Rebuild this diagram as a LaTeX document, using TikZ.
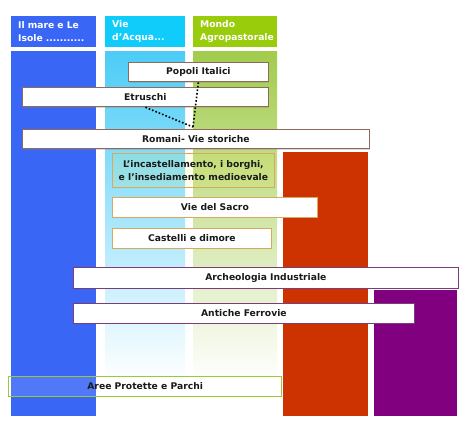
\documentclass[tikz,border=0pt]{standalone}
\usepackage{fontspec}
\setsansfont{DejaVu Sans}
\usetikzlibrary{positioning,shadows}
\definecolor{mareBlue}{HTML}{3A66F6}
\definecolor{acquaHead}{HTML}{10CCFA}
\definecolor{acquaBody}{HTML}{4CCCF6}
\definecolor{agroHead}{HTML}{99CC0A}
\definecolor{agroBody}{HTML}{A2CC4C}
\definecolor{storiaRed}{HTML}{CC3300}
\definecolor{ferroPurple}{HTML}{800080}
\definecolor{romaLine}{HTML}{8C6A5C}
\definecolor{sacroLine}{HTML}{D8A860}
\definecolor{induLine}{HTML}{7C3C7C}
\definecolor{parkLine}{HTML}{9CC83C}
\definecolor{boxInk}{HTML}{1A1A1A}
\tikzset{
    every picture/.style={font=\sffamily},
    colhead/.style={anchor=north west, inner xsep=7pt, inner ysep=0pt, minimum height=31pt, text width=#1, align=left, text=white, font=\sffamily\bfseries\fontsize{9.2}{13}\selectfont},
    colbody/.style={anchor=north west, inner sep=0pt, minimum width=#1},
    topicbase/.style={anchor=north west, inner sep=0pt, minimum height=19.5pt, text=boxInk, line width=0.8pt, align=center, font=\sffamily\bfseries\fontsize{9.2}{12.5}\selectfont},
    topic/.style={topicbase, fill=white, drop shadow={shadow xshift=1pt, shadow yshift=-1pt, opacity=0.3}},
    link/.style={line width=1.6pt, dotted, draw=black}
}
\begin{document}
\begin{tikzpicture}[x=1pt, y=-1pt]
\useasboundingbox (0,0) rectangle (472,436);
% columns
\node[colhead=71pt, fill=mareBlue] (mareHead) at (11,16) {Il mare e Le\\Isole ...........};
\node[colhead=66pt, fill=acquaHead] (acquaHead) at (105,16) {Vie\\d'Acqua...};
\node[colhead=70pt, fill=agroHead] (agroHead) at (193,16) {Mondo\\Agropastorale};
\node[colbody=85pt, minimum height=365pt, fill=mareBlue] (mare) at (11,51) {};
\node[colbody=80pt, minimum height=330pt, top color=acquaBody, bottom color=white] (acqua) at (105,51) {};
\node[colbody=84pt, minimum height=330pt, top color=agroBody, bottom color=white] (agro) at (193,51) {};
\node[colbody=85pt, minimum height=264pt, fill=storiaRed] (storia) at (283,152) {};
\node[colbody=83pt, minimum height=126pt, fill=ferroPurple] (ferro) at (374,290) {};
% topics
\node[topic, draw=romaLine, minimum width=140pt] (popoli) at (128,62) {Popoli Italici};
\node[topic, draw=romaLine, minimum width=246pt] (etruschi) at (22,87) {Etruschi};
\node[topic, draw=romaLine, minimum width=347pt] (romani) at (22,129) {Romani- Vie storiche};
\node[topicbase, draw=sacroLine, fill=yellow, fill opacity=0.08, text opacity=1, minimum width=162pt, minimum height=34pt] (borghi) at (112,153) {L'incastellamento, i borghi,\\e l'insediamento medioevale};
\node[topic, draw=sacroLine, minimum width=205pt] (sacro) at (112,197) {Vie del Sacro};
\node[topic, draw=sacroLine, minimum width=159pt] (castelli) at (112,228) {Castelli e dimore};
\node[topic, draw=induLine, minimum width=385pt, minimum height=21pt] (archeo) at (73,267) {Archeologia Industriale};
\node[topic, draw=induLine, minimum width=341pt] (ferrovie) at (73,303) {Antiche Ferrovie};
\node[topicbase, draw=parkLine, line width=1.4pt, fill=white, fill opacity=0.12, text opacity=1, minimum width=273pt] (parchi) at (8,376) {Aree Protette e Parchi};
% links
\coordinate (meet) at (193,127);
\draw[link] (popoli.south) -- (meet);
\draw[link] (etruschi.south) -- (meet);
\end{tikzpicture}
\end{document}
